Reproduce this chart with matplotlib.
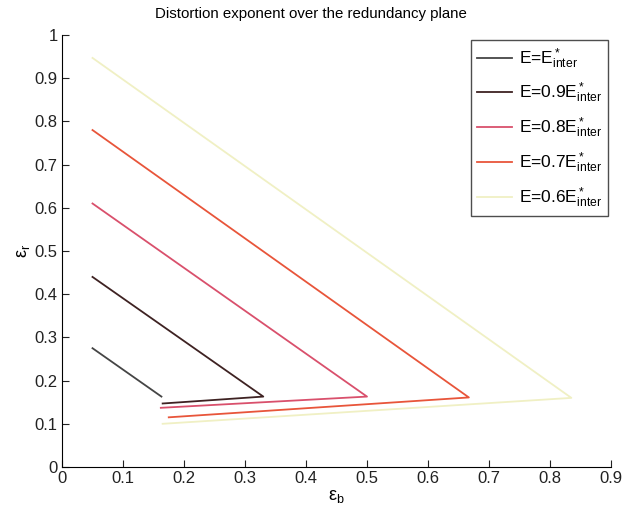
import matplotlib
matplotlib.use("Agg")
import matplotlib.pyplot as plt
from matplotlib.ticker import MultipleLocator, FuncFormatter

plt.rcParams["font.family"] = ["Liberation Sans", "DejaVu Sans"]
plt.rcParams["mathtext.fontset"] = "custom"
plt.rcParams["mathtext.rm"] = "Liberation Sans"
plt.rcParams["mathtext.it"] = "Liberation Sans"

# 各曲线的折线顶点 (eps_b, eps_r)
labels = [r"E=E$^*_\mathrm{inter}$",
          r"E=0.9E$^*_\mathrm{inter}$",
          r"E=0.8E$^*_\mathrm{inter}$",
          r"E=0.7E$^*_\mathrm{inter}$",
          r"E=0.6E$^*_\mathrm{inter}$"]
eps_b = [[0.05, 0.163],
         [0.05, 0.33, 0.165],
         [0.05, 0.50, 0.162],
         [0.05, 0.667, 0.175],
         [0.05, 0.835, 0.165]]
eps_r = [[0.275, 0.163],
         [0.44, 0.163, 0.147],
         [0.61, 0.163, 0.137],
         [0.78, 0.161, 0.115],
         [0.947, 0.16, 0.10]]
colors = ["#454545", "#3e2222", "#d9506c", "#e8553a", "#f0f0c4"]

fig = plt.figure(figsize=(6.25, 5.12), dpi=100)
ax = fig.add_axes([0.0992, 0.0879, 0.8784, 0.8437])

for xs, ys, c, lab in zip(eps_b, eps_r, colors, labels):
    ax.plot(xs, ys, color=c, linewidth=1.3, label=lab)

ax.set_xlim(0, 0.9)
ax.set_ylim(0, 1)
ax.xaxis.set_major_locator(MultipleLocator(0.1))
ax.yaxis.set_major_locator(MultipleLocator(0.1))
fmt = FuncFormatter(lambda v, _: "{:g}".format(round(v, 2)))
ax.xaxis.set_major_formatter(fmt)
ax.yaxis.set_major_formatter(fmt)
ax.tick_params(direction="in", labelsize=12, length=5, colors="#222222", pad=3)

# 去掉上边框和右边框
ax.spines["top"].set_visible(False)
ax.spines["right"].set_visible(False)

ax.set_xlabel(r"$\mathrm{ε_b}$", fontsize=13, labelpad=1)
ax.set_ylabel(r"$\mathrm{ε_r}$", fontsize=13, labelpad=2)
ax.set_title("Distortion exponent over the redundancy plane", fontsize=10.8,
             pad=12, x=0.4536)

leg = ax.legend(loc="upper right", bbox_to_anchor=(0.9945, 0.988), fontsize=12.5,
                frameon=True, fancybox=False, handlelength=2.0, labelspacing=0.6,
                borderpad=0.35, handletextpad=0.4, borderaxespad=0)
leg.get_frame().set_edgecolor("#222222")
leg.get_frame().set_linewidth(1.0)

plt.savefig("out.png", dpi=100)
